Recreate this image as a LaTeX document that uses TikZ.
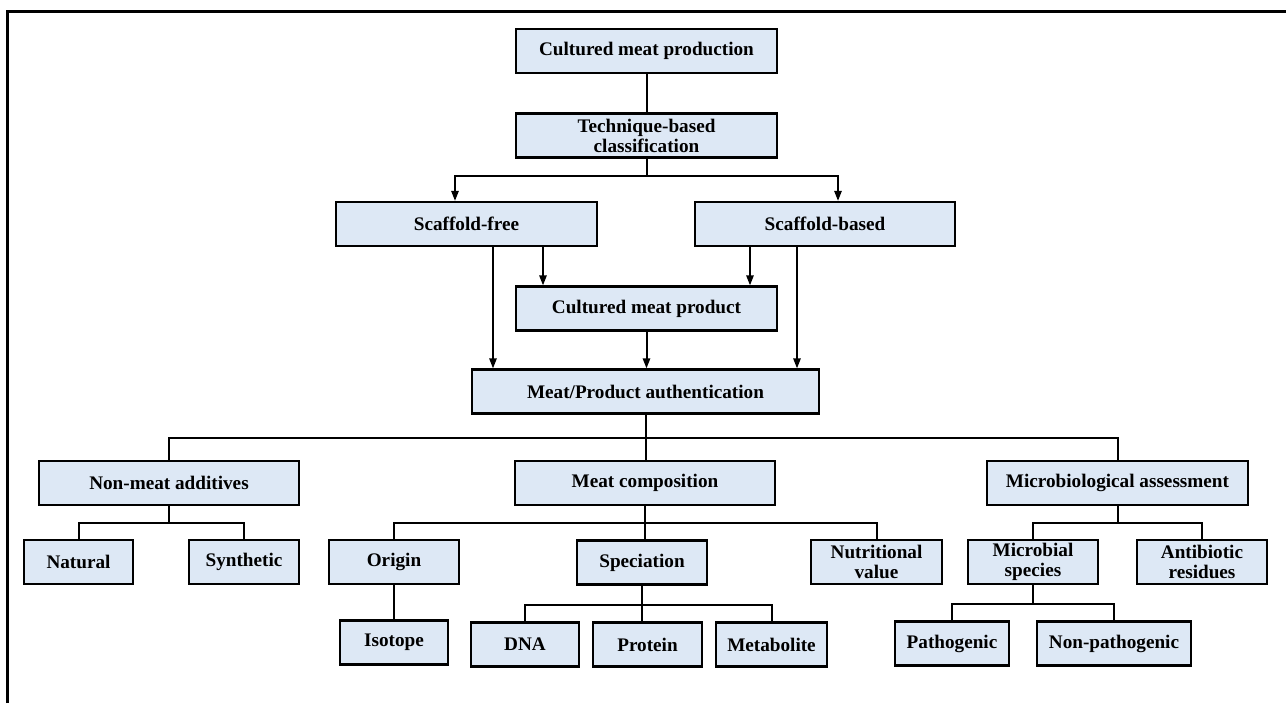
\documentclass[tikz,border=0pt]{standalone}
\usepackage{fontspec}
\setmainfont{Liberation Serif}
\usepackage{tikz}
\usetikzlibrary{arrows.meta,positioning,calc}
\usepackage{xcolor}
\definecolor{boxfill}{RGB}{221,232,245}

\begin{document}
\begin{tikzpicture}[
				x=0.5pt,y=-0.5pt,
				box/.style={draw,rectangle,line width=1.1pt,fill=boxfill,minimum height=22pt,inner sep=1pt,align=center,font=\fontsize{9.6pt}{10pt}\selectfont\bfseries},
				link/.style={line width=1pt},
				arr/.style={line width=1pt,-{Triangle[length=5pt,width=3.6pt]}}
				]
				
				\useasboundingbox (0,0) rectangle (1286,703);
				\draw[line width=1.5pt] (7,703) -- (7,11) -- (1286,11);
				
				\node[box,minimum width=130.5pt] (prod) at (646.5,51) {Cultured meat production};
				\node[box,minimum width=130.5pt] (tech) at (646.5,135.5) {Technique-based\\classification};
				\node[box,minimum width=130.5pt] (sfree) at (466.5,224) {Scaffold-free};
				\node[box,minimum width=130pt] (sbased) at (825,224) {Scaffold-based};
				\node[box,minimum width=130.5pt] (cmprod) at (646.5,308.5) {Cultured meat product};
				\node[box,minimum width=173.5pt] (auth) at (645.5,391.5) {Meat/Product authentication};
				
				\node[box,minimum width=130pt] (nonmeat) at (169,483) {Non-meat additives};
				\node[box,minimum width=130pt] (comp) at (645,483) {Meat composition};
				\node[box,minimum width=130.5pt] (micro) at (1117.5,483) {Microbiological assessment};
				
				\node[box,minimum width=54.5pt] (natural) at (78.5,562) {Natural};
				\node[box,minimum width=55pt] (synth) at (244,562) {Synthetic};
				\node[box,minimum width=65pt] (origin) at (394,562) {Origin};
				\node[box,minimum width=65pt] (spec) at (642,562.5) {Speciation};
				\node[box,minimum width=65.5pt] (nutri) at (876.5,562) {Nutritional\\value};
				\node[box,minimum width=65pt] (mspec) at (1033,562) {Microbial\\species};
				\node[box,minimum width=65pt] (anti) at (1202,562) {Antibiotic\\residues};
				
				\node[box,minimum width=54pt] (isotope) at (394,642.5) {Isotope};
				\node[box,minimum width=54pt] (dna) at (525,644.5) {DNA};
				\node[box,minimum width=54.5pt] (protein) at (647.5,644.5) {Protein};
				\node[box,minimum width=55.5pt] (metab) at (771.5,644.5) {Metabolite};
				\node[box,minimum width=57pt] (patho) at (952,643.5) {Pathogenic};
				\node[box,minimum width=77pt] (nonpatho) at (1114,643.5) {Non-pathogenic};
				
				% top part
				\draw[link] (prod) -- (tech);
				\draw[link] (tech.south) -- ++(0,-8.5pt) coordinate (tb);
				\draw[arr] (tb) -| ([xshift=-5.75pt]sfree.north);
				\draw[arr] (tb) -| ([xshift=6.5pt]sbased.north);
				\draw[arr] ([xshift=38.25pt]sfree.south) -- ([xshift=38.25pt]sfree.south |- cmprod.north);
				\draw[arr] ([xshift=-37.5pt]sbased.south) -- ([xshift=-37.5pt]sbased.south |- cmprod.north);
				\draw[arr] ([xshift=13.25pt]sfree.south) -- ([xshift=13.25pt]sfree.south |- auth.north);
				\draw[arr] ([xshift=-14pt]sbased.south) -- ([xshift=-14pt]sbased.south |- auth.north);
				\draw[arr] (cmprod) -- (cmprod.south |- auth.north);
				
				% authentication tree
				\draw[link] (auth.south) -- ++(0,-11.5pt) coordinate (ab) -| (nonmeat.north);
				\draw[link] (ab) -| (micro.north);
				\draw[link] (ab) -- (ab |- comp.north);
				
				\draw[link] (nonmeat.south) -- ++(0,-8.5pt) coordinate (nb) -| (natural.north);
				\draw[link] (nb) -| (synth.north);
				
				\draw[link] (comp.south) -- ++(0,-8.5pt) coordinate (cb) -| (origin.north);
				\draw[link] (cb) -| (nutri.north);
				\draw[link] (cb) -- (cb |- spec.north);
				\draw[link] (origin) -- (isotope);
				
				\draw[link] (spec.south) -- ++(0,-9.5pt) coordinate (sb) -| (dna.north);
				\draw[link] (sb) -| (metab.north);
				\draw[link] (sb) -- (sb |- protein.north);
				
				\draw[link] (micro.south) -- ++(0,-8.5pt) coordinate (mb) -| (mspec.north);
				\draw[link] (mb) -| (anti.north);
				
				\draw[link] (mspec.south) -- ++(0,-9.5pt) coordinate (pb) -| (patho.north);
				\draw[link] (pb) -| (nonpatho.north);
				
			\end{tikzpicture}
\end{document}
